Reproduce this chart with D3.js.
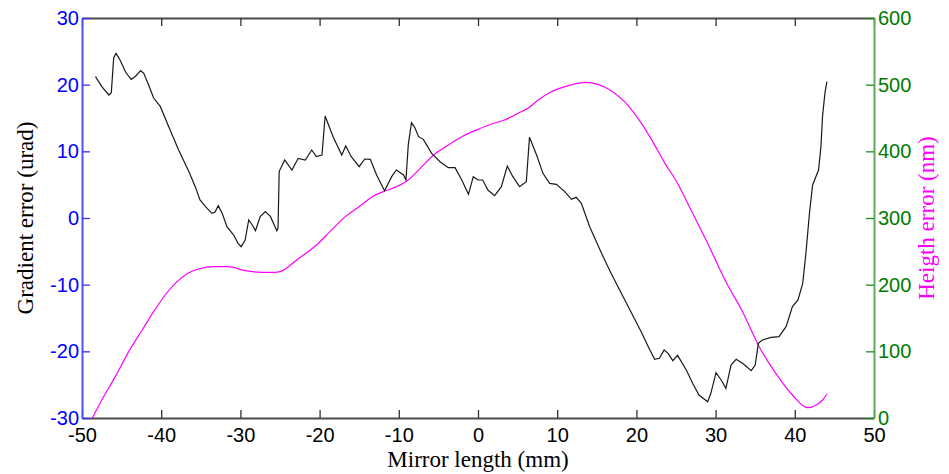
<!DOCTYPE html>
<html>
<head>
<meta charset="utf-8">
<script src="https://cdn.jsdelivr.net/npm/d3@7"></script>
<style>
  body { margin: 0; background: #fff; }
  #chart { width: 949px; height: 474px; }
</style>
</head>
<body>
<div id="chart"></div>
<script>
console.log("Mirror slope / height error plot");

// gradient error (urad) along mirror
const gradX = [-48.3,-47.5,-46.6,-46.3,-46.0,-45.7,-45.2,-44.5,-43.8,-43.3,-42.6,-42.2,-41.6,-40.95,-40.1,-39.05,-37.8,-36.5,-35.7,-35.1,-34.4,-33.6,-33.2,-32.8,-32.3,-31.7,-30.85,-30.3,-29.9,-29.4,-28.95,-28.5,-28.1,-27.5,-26.85,-26.2,-25.4,-25.25,-25.1,-24.4,-23.5,-22.7,-21.8,-21.0,-20.4,-19.7,-19.3,-18.3,-17.2,-16.7,-16.0,-15.0,-14.3,-13.6,-12.8,-11.8,-10.9,-10.3,-9.4,-9.1,-8.8,-8.4,-8.0,-7.5,-6.9,-5.85,-4.8,-3.75,-2.9,-2.05,-1.2,-0.6,0.0,0.6,1.25,2.1,2.95,3.7,4.4,5.25,6.1,6.5,7.4,8.2,9.05,9.9,10.95,11.8,12.4,13.05,14.1,15.6,16.8,18.1,19.4,20.6,21.5,22.3,22.9,23.5,24.0,24.6,25.2,26.3,27.1,27.9,29.0,29.4,30.05,30.7,31.3,31.95,32.6,33.4,34.5,35.0,35.4,35.9,37.0,38.0,38.9,39.7,40.4,41.0,41.4,41.85,42.25,43.0,43.3,43.5,43.8,44.05];
const gradY = [21.2,19.7,18.45,18.8,24.0,24.7,23.7,21.9,20.8,21.2,22.1,21.7,20.0,18.0,16.7,13.7,10.2,6.95,4.7,2.7,1.7,0.7,0.9,1.85,0.7,-1.3,-2.55,-3.8,-4.3,-3.3,-0.3,-1.05,-1.9,0.2,0.95,0.2,-1.9,-1.5,7.0,8.7,7.2,8.95,8.7,10.2,9.2,9.45,15.3,12.2,9.45,10.8,9.2,7.7,8.85,8.8,6.45,4.1,6.2,7.2,6.45,5.7,11.0,14.3,13.6,12.2,11.8,9.7,8.45,7.55,7.55,5.7,3.55,6.2,5.7,5.7,4.2,3.35,4.7,7.8,6.2,4.7,5.45,12.1,9.45,6.7,5.2,5.05,3.95,2.8,3.1,2.2,-1.3,-5.3,-8.3,-11.3,-14.3,-17.05,-19.3,-21.2,-21.05,-19.8,-20.3,-21.4,-20.6,-22.8,-24.8,-26.55,-27.55,-26.3,-23.2,-24.3,-25.55,-22.05,-21.2,-21.8,-22.9,-22.05,-18.8,-18.3,-17.9,-17.8,-16.3,-13.3,-12.3,-9.8,-5.3,0.7,4.95,7.2,10.7,15.2,18.7,20.45];

// height error (nm)
const heightX = [-48.7,-47.5,-45.8,-44.1,-42.4,-40.95,-39.5,-38.0,-36.5,-35.3,-33.2,-31.5,-29.4,-27.3,-25.6,-25.0,-22.9,-20.4,-18.7,-17.0,-14.9,-13.2,-11.75,-10.3,-8.8,-7.3,-5.6,-3.95,-2.05,0.0,1.7,3.35,5.05,6.3,7.6,9.25,11.4,13.5,15.15,16.8,18.5,20.2,21.9,23.6,25.1,27.1,29.2,31.3,33.4,35.5,37.6,39.7,41.6,42.7,43.5,44.05];
const heightY = [0,27,62,99.5,132,159.5,184.5,204.5,218,223.5,227,227,221,218.5,218.5,219.5,237,259.5,279.5,299.5,318,333,340.5,347,357,374.5,394.5,408,422,433,441,447,457,464.5,477,489.5,498.5,503.5,500.5,491,474.5,449.5,418,382,354,307,257,204.5,159.5,107,67,34.5,15.5,19.5,27,36];

const xTicks = [-50,-40,-30,-20,-10,0,10,20,30,40,50];
const gradTicks = [-30,-20,-10,0,10,20,30];
const heightTicks = [0,100,200,300,400,500,600];

renderChart(document.getElementById('chart'));

function renderChart(dom){
	const W = 949, H = 474;
	const m = {t: 18, r: 75, b: 56, l: 82};
	const w = W - m.l - m.r;
	const h = H - m.t - m.b;

	const svg = d3.select(dom).append('svg')
		.attr('width', W)
		.attr('height', H);
	const plot = svg.append('g')
		.attr('transform', `translate(${m.l},${m.t})`);

	//scales
	const x = d3.scaleLinear().domain([-50, 50]).range([0, w]);
	const yL = d3.scaleLinear().domain([-30, 30]).range([h, 0]);
	const yR = d3.scaleLinear().domain([0, 600]).range([h, 0]);

	const tickFont = 'Liberation Sans, Arial, sans-serif';
	const fmt = d => String(d); // plain hyphen, not unicode minus

	// bottom + top axes, ticks pointing in
	const xb = plot.append('g')
		.attr('transform', `translate(0,${h})`)
		.call(d3.axisBottom(x).tickValues(xTicks).tickFormat(fmt).tickSizeInner(-8).tickSizeOuter(0).tickPadding(10));
	const xt = plot.append('g')
		.call(d3.axisTop(x).tickValues(xTicks).tickSizeInner(-8).tickSizeOuter(0).tickFormat(''));
	[xb, xt].forEach(g => {
		g.select('.domain').attr('stroke', '#4a4a4a').attr('stroke-width', 2);
		g.selectAll('.tick line').attr('stroke', '#333').attr('stroke-width', 1.3);
	});
	xb.selectAll('.tick text')
		.attr('fill', '#000')
		.style('font-family', tickFont)
		.style('font-size', '20px');

	// left axis (blue)
	const yl = plot.append('g')
		.call(d3.axisLeft(yL).tickValues(gradTicks).tickFormat(fmt).tickSizeInner(-8).tickSizeOuter(0).tickPadding(3));
	yl.select('.domain').attr('stroke', '#5050ff').attr('stroke-width', 2);
	yl.selectAll('.tick line').attr('stroke', '#3535ff').attr('stroke-width', 1.3);
	yl.selectAll('.tick text')
		.attr('fill', '#0000ff')
		.style('font-family', tickFont)
		.style('font-size', '20px');

	// right axis (green)
	const yr = plot.append('g')
		.attr('transform', `translate(${w},0)`)
		.call(d3.axisRight(yR).tickValues(heightTicks).tickFormat(fmt).tickSizeInner(-8).tickSizeOuter(0).tickPadding(4));
	yr.select('.domain').attr('stroke', '#5faa5f').attr('stroke-width', 2);
	yr.selectAll('.tick line').attr('stroke', '#228b22').attr('stroke-width', 1.3);
	yr.selectAll('.tick text')
		.attr('fill', '#007a00')
		.style('font-family', tickFont)
		.style('font-size', '20px');

	// lines
	const gradData = gradX.map((d, i) => [d, gradY[i]]);
	const heightData = heightX.map((d, i) => [d, heightY[i]]);

	const gradLine = d3.line()
		.x(d => x(d[0]))
		.y(d => yL(d[1]));
	const heightLine = d3.line()
		.x(d => x(d[0]))
		.y(d => yR(d[1]))
		.curve(d3.curveMonotoneX);

	plot.append('path')
		.datum(heightData)
		.attr('d', heightLine)
		.style('fill', 'none')
		.style('stroke', '#ff00ff')
		.style('stroke-width', 1.2);

	plot.append('path')
		.datum(gradData)
		.attr('d', gradLine)
		.style('fill', 'none')
		.style('stroke', '#1a1a1a')
		.style('stroke-width', 1.2);

	//titles
	const titleFont = 'Liberation Serif, Times New Roman, serif';
	svg.append('text')
		.attr('x', m.l + w / 2)
		.attr('y', 467)
		.attr('text-anchor', 'middle')
		.style('font-family', titleFont)
		.style('font-size', '23px')
		.style('fill', '#000')
		.text('Mirror length (mm)');

	svg.append('text')
		.attr('transform', `translate(33,${m.t + h / 2}) rotate(-90)`)
		.attr('text-anchor', 'middle')
		.style('font-family', titleFont)
		.style('font-size', '23px')
		.style('fill', '#000')
		.text('Gradient error (urad)');

	svg.append('text')
		.attr('transform', `translate(934,${m.t + h / 2}) rotate(-90)`)
		.attr('text-anchor', 'middle')
		.style('font-family', titleFont)
		.style('font-size', '23px')
		.style('fill', '#ff00ff')
		.text('Heigth error (nm)');
}
</script>
</body>
</html>
